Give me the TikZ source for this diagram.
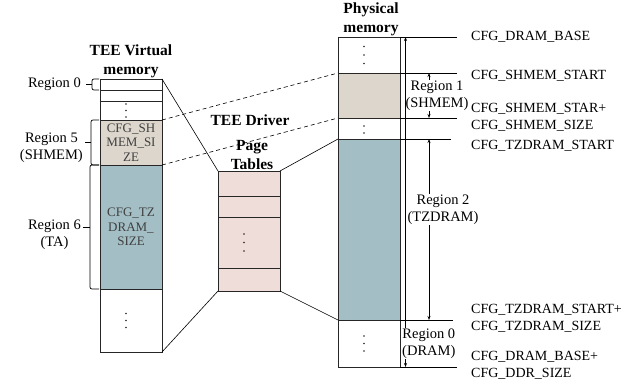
\documentclass[tikz,border=0pt]{standalone}
\usepackage{fontspec}
\setmainfont{Liberation Serif}
\usepackage{tikz}
\usetikzlibrary{arrows.meta, positioning}
\definecolor{cBeige}{HTML}{DDD6CC}
\definecolor{cTeal}{HTML}{A3BFC5}
\definecolor{cPink}{HTML}{EEDDD8}

\begin{document}
\begin{tikzpicture}[
    x=1pt, y=-1pt,
    cell/.style={draw=black!85, line width=0.7pt, minimum width=62pt,
                 inner sep=0pt, outer sep=0pt, align=center,
                 font=\fontsize{13}{14.5}\selectfont, text=black!75},
    shm/.style={fill=cBeige},
    tz/.style={fill=cTeal},
    ptab/.style={fill=cPink},
    dotf/.style={fill=black!85},
    ttl/.style={font=\bfseries\fontsize{15.5}{19}\selectfont, align=center, inner sep=1pt},
    lbl/.style={font=\fontsize{14.5}{17}\selectfont, align=center, inner sep=1pt},
    addr/.style={font=\fontsize{14}{17}\selectfont, align=left, anchor=west, inner sep=0pt},
    tick/.style={line width=0.7pt},
    dim/.style={<->, line width=0.6pt, >={Stealth[length=4pt, width=3pt]}},
    brk/.style={rounded corners=2pt, line width=0.7pt},
    dsh/.style={dash pattern=on 4pt off 3pt, line width=0.6pt},
]
\useasboundingbox (0,0) rectangle (644,387);

% ---------------- TEE virtual memory ----------------
\node[cell, minimum height=11pt, anchor=north west] (v0) at (100,79) {};
\node[cell, minimum height=11pt, below=0pt of v0] (v1) {};
\node[cell, minimum height=19pt, below=0pt of v1] (v2) {};
\node[cell, shm, minimum height=45pt, below=0pt of v2] (vshm) {CFG\_SH\\MEM\_SI\\ZE};
\node[cell, tz, minimum height=124pt, below=0pt of vshm] (vta) {CFG\_TZ\\DRAM\_\\SIZE};
\node[cell, minimum height=63pt, below=0pt of vta] (v3) {};
\node[ttl, above=0pt of v0] (vtitle) {TEE Virtual\\memory};

% region brackets
\draw[brk] ([xshift=-1pt]v0.north west) -| ([xshift=-8pt]v0.west) |- ([xshift=-1pt]v0.south west);
\draw[brk] ([xshift=-8pt]v0.west) -- ++(-6,0) coordinate (n0);
\node[lbl, left=4pt of n0] (r0) {Region 0};

\draw[brk] ([xshift=-1pt]vshm.north west) -| ([xshift=-9pt]vshm.west) |- ([xshift=-1pt]vshm.south west);
\draw[brk] ([xshift=-9pt]vshm.west) -- ++(-6,0) coordinate (n5);
\node[lbl, left=1pt of n5, yshift=-5.5pt] (r5) {Region 5\\(SHMEM)};

\draw[brk] ([xshift=-1pt]vta.north west) -| ([xshift=-10pt]vta.west) |- ([xshift=-1pt]vta.south west);
\draw[brk] ([xshift=-10pt]vta.west) -- ++(-7,0) coordinate (n6);
\node[lbl, left=1pt of n6, yshift=-8pt] (r6) {Region 6\\(TA)};

% ---------------- TEE driver page tables ----------------
\node[cell, ptab, minimum height=25pt, anchor=north west] (p1) at (218,171) {};
\node[cell, ptab, minimum height=21pt, below=0pt of p1] (p2) {};
\node[cell, ptab, minimum height=51pt, below=0pt of p2] (p3) {};
\node[cell, ptab, minimum height=23pt, below=0pt of p3] (p4) {};
\node[ttl, above=0pt of p1, xshift=3pt] (ptitle) {Page\\Tables};
\node[ttl] (drv) at (250,120) {TEE Driver};

% ---------------- physical memory ----------------
\node[cell, minimum height=36pt, anchor=north west] (m1) at (338,37) {};
\node[cell, shm, minimum height=45pt, below=0pt of m1] (mshm) {};
\node[cell, minimum height=21pt, below=0pt of mshm] (m2) {};
\node[cell, tz, minimum height=181pt, below=0pt of m2] (mtz) {};
\node[cell, minimum height=47pt, below=0pt of mtz] (m3) {};
\node[ttl, above=0pt of m1, xshift=2pt] (mtitle) {Physical\\memory};

% vertical ellipses
\foreach \c/\s in {v2/6.5, v3/7, p3/8.5, m1/8.5, m3/7.5}
  \foreach \k in {-1,0,1}
    \fill[dotf] ([xshift=-5pt, yshift={\k*\s*1pt}]\c.center) circle (0.9pt);
\fill[dotf] ([xshift=-5pt, yshift=2.5pt]m2.center) circle (0.9pt);
\fill[dotf] ([xshift=-5pt, yshift=-4.5pt]m2.center) circle (0.9pt);

% mappings
\draw[line width=0.6pt] (v0.north east) -- (p1.north west);
\draw[line width=0.6pt] (v3.south east) -- (p4.south west);
\draw[line width=0.6pt] (p1.north east) -- (mtz.north west);
\draw[line width=0.6pt] (p4.south east) -- (mtz.south west);
\draw[dsh] (vshm.north east) -- (mshm.north west);
\draw[dsh] (vshm.south east) -- (mshm.south west);

% address ticks
\draw[tick] (m1.north east) -- ++(57,0);
\draw[tick] (mshm.north east) -- ++(57,0);
\draw[tick] (mshm.south east) -- ++(57,0);
\draw[tick] (mtz.north east) -- ++(51,0);
\draw[tick] (mtz.south east) -- ++(53,0);
\draw[tick] (m3.south east) -- ++(57,0);

% region extents
\draw[dim] ([xshift=29pt]mshm.north east) --
    node[lbl, fill=white, inner sep=0.5pt, xshift=8pt] (r1) {Region 1\\(SHMEM)}
    ([xshift=29pt]mshm.south east);
\draw[dim] ([xshift=29pt]mtz.north east) --
    node[lbl, fill=white, inner sep=0.5pt, pos=0.39, xshift=14pt] (r2) {Region 2\\(TZDRAM)}
    ([xshift=29pt]mtz.south east);
\draw[dim] ([xshift=5.5pt]m1.north east) -- ([xshift=5.5pt]m3.south east);
\node[lbl, fill=white, inner sep=0.5pt, anchor=west] (r0d) at ([xshift=1.5pt]m3.east) {Region 0\\(DRAM)};

% addresses
\node[addr] (aBase) at (471,37) {CFG\_DRAM\_BASE};
\node[addr] (aShS) at (471,76) {CFG\_SHMEM\_START};
\node[addr] (aShE) at (471,117) {CFG\_SHMEM\_STAR+\\CFG\_SHMEM\_SIZE};
\node[addr] (aTzS) at (471,146) {CFG\_TZDRAM\_START};
\node[addr] (aTzE) at (471,318.5) {CFG\_TZDRAM\_START+\\CFG\_TZDRAM\_SIZE};
\node[addr] (aEnd) at (471,365) {CFG\_DRAM\_BASE+\\CFG\_DDR\_SIZE};

\end{tikzpicture}
\end{document}
